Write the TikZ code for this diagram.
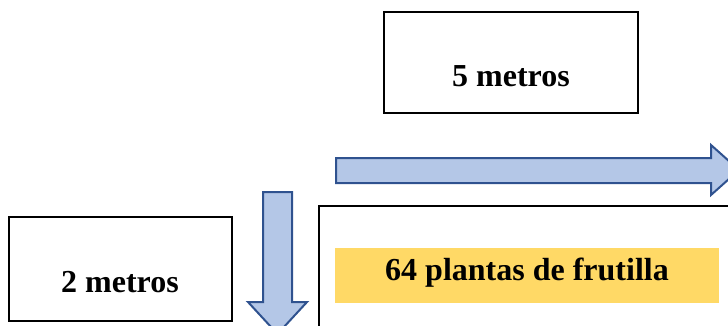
\documentclass[tikz,border=0pt]{standalone}
\usepackage{fontspec}
\setmainfont{Liberation Serif}
\definecolor{arrowfill}{HTML}{B4C7E7}
\definecolor{arrowline}{HTML}{2F528F}
\definecolor{labelyellow}{HTML}{FFD966}
\begin{document}
\begin{tikzpicture}[x=1pt,y=-1pt,
  box/.style={draw=black,line width=1.3pt,fill=white},
  bigarrow/.style={draw=arrowline,fill=arrowfill,line width=2pt,line join=miter},
  lbl/.style={font=\fontsize{32}{36}\selectfont\bfseries,anchor=base,inner sep=0pt}]
\useasboundingbox (0,0) rectangle (728,326);
\clip (0,0) rectangle (728,326);
% boxes
\draw[box] (384,12) rectangle (638,113);
\node[lbl] (five) at (511,87) {5 metros};
\draw[box] (9,217) rectangle (232,321);
\node[lbl] (two) at (120,292) {2 metros};
\draw[box] (319,206) rectangle (745,345);
\fill[labelyellow] (335,248) rectangle (719,303);
\node[lbl] (plants) at (527,280) {64 plantas de frutilla};
% arrows
\draw[bigarrow] (336,158) -- (711,158) -- (711,145) -- (739,170) -- (711,195) -- (711,183) -- (336,183) -- cycle;
\draw[bigarrow] (263,192) -- (292,192) -- (292,302) -- (307,302) -- (277.5,334) -- (248,302) -- (263,302) -- cycle;
\end{tikzpicture}
\end{document}
